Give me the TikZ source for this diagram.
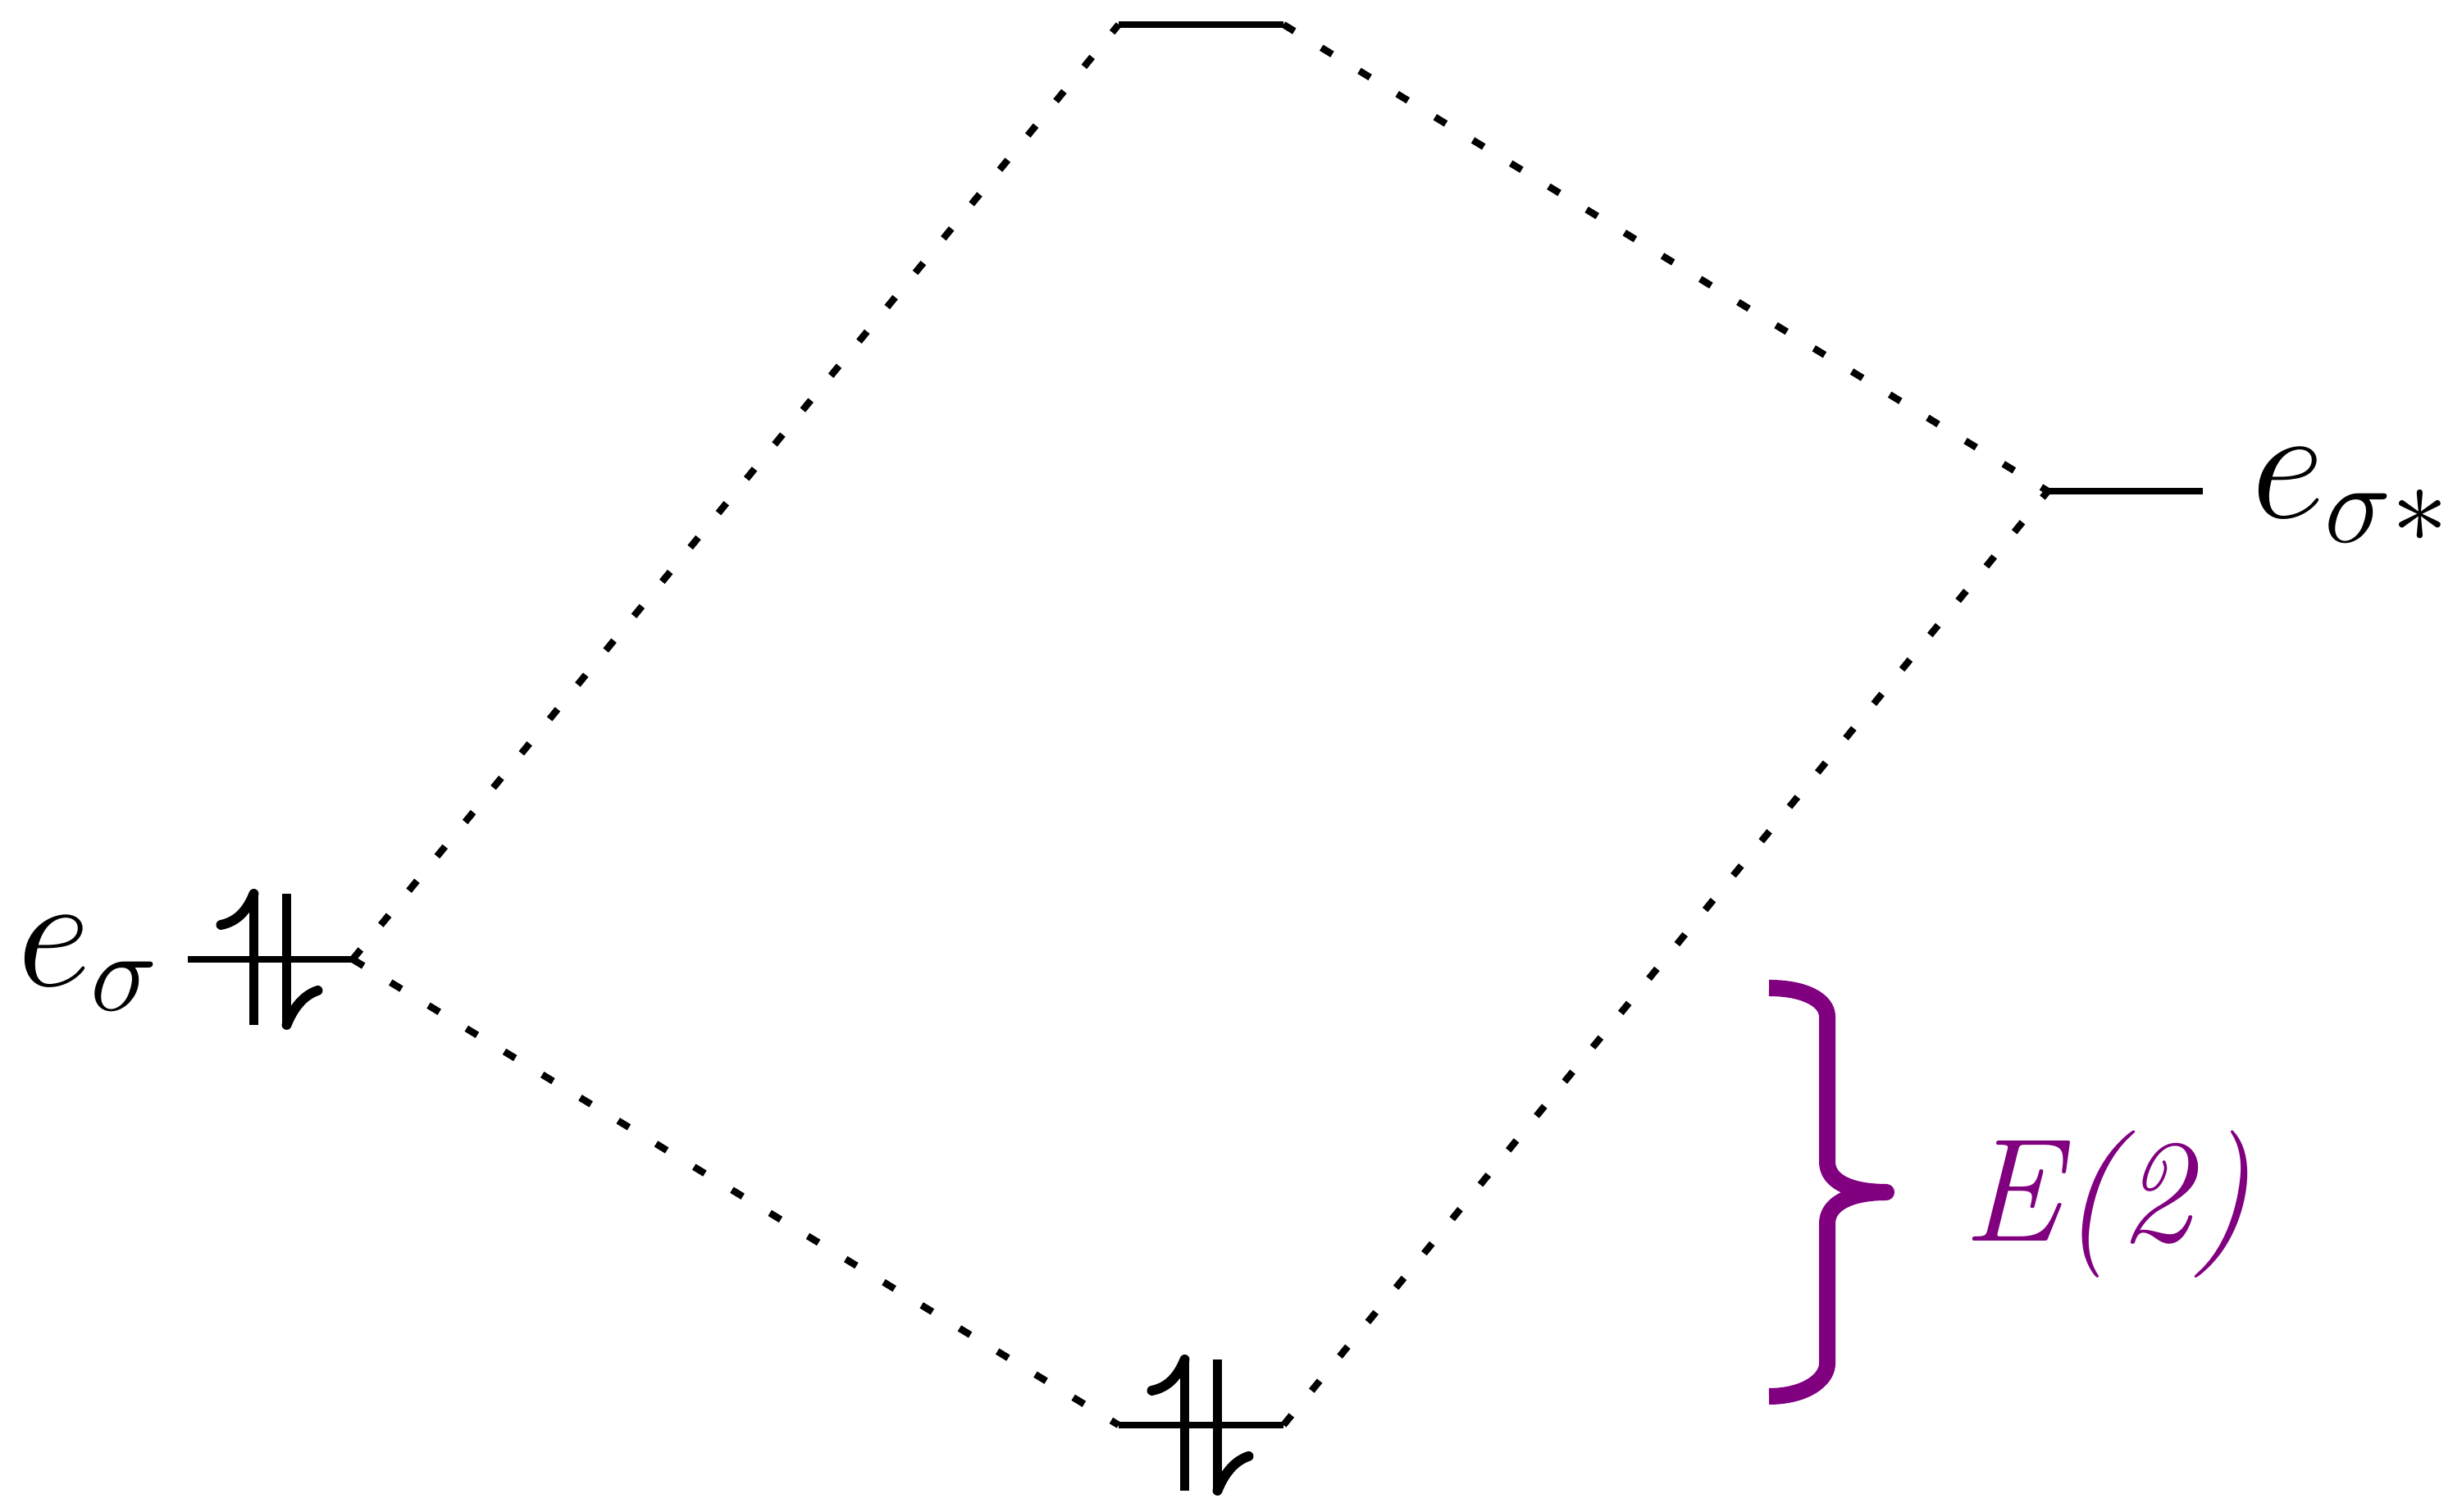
\RequirePackage{fix-cm}
\documentclass[tikz,border=0pt]{standalone}
\usetikzlibrary{positioning,calc}
\definecolor{nbopurple}{HTML}{800080}
\begin{document}
	\begin{tikzpicture}
		[level/.style={line width=1.13pt},
		link/.style={line width=1.2pt, dash pattern=on 2.2pt off 5.5pt},
		spin/.style={line width=1.7pt},
		orbital/.style={inner sep=0pt, font=\fontsize{28}{34}\selectfont},
		bracket/.style={nbopurple, line width=2.85pt, line join=round},
		energy/.style={nbopurple, inner sep=0pt, font=\fontsize{25.5}{30}\selectfont\itshape},
		pics/pair/.style={code={
			\draw[spin] (-0.1,-0.4) -- (-0.1,0.4);
			\draw[spin, line cap=round] (-0.1,0.4) .. controls (-0.14,0.3) and (-0.2,0.23) .. (-0.3,0.21);
			\draw[spin] (0.1,0.4) -- (0.1,-0.4);
			\draw[spin, line cap=round] (0.1,-0.4) .. controls (0.14,-0.3) and (0.2,-0.22) .. (0.29,-0.19);
		}}]
		\useasboundingbox (0,0) rectangle (15.01,9.22);
		% levels
		\coordinate (sig1) at (1.145,3.37);
		\coordinate (sig2) at (2.15,3.37);
		\coordinate (anti1) at (6.82,9.07);
		\coordinate (anti2) at (7.825,9.07);
		\coordinate (bond1) at (6.82,0.53);
		\coordinate (bond2) at (7.825,0.53);
		\coordinate (star1) at (12.485,6.225);
		\coordinate (star2) at (13.43,6.225);
		\draw[level] (sig1) -- (sig2);
		\draw[level] (anti1) -- (anti2);
		\draw[level] (bond1) -- (bond2);
		\draw[level] (star1) -- (star2);
		% electrons
		\pic at ($(sig1)!0.5!(sig2)$) {pair};
		\pic at ($(bond1)!0.5!(bond2)$) {pair};
		% mixing
		\draw[link] (sig2) -- (anti1);
		\draw[link] (sig2) -- (bond1);
		\draw[link] (anti2) -- (star1);
		\draw[link] (bond2) -- (star1);
		% labels
		\node[orbital, anchor=base east] (esig) at ($(sig1)+(-0.16,-0.165)$) {$e_\sigma$};
		\node[orbital, anchor=base west] (estar) at ($(star2)+(0.29,-0.165)$) {$e_{\sigma*}$};
		% stabilisation
		\coordinate (bt) at (10.785,3.195);
		\coordinate (bb) at (10.785,0.705);
		\coordinate (bm) at (11.5,1.95);
		\draw[bracket] (bt) .. controls +(0.22,0) and +(0,0.1) .. ++(0.355,-0.175)
			-- ++(0,-0.885) .. controls +(0,-0.12) and +(-0.22,0) .. (bm)
			.. controls +(-0.22,0) and +(0,0.12) .. ++(-0.36,-0.19)
			-- ++(0,-0.855) .. controls +(0,-0.1) and +(0.22,0) .. (bb);
		\node[energy, anchor=base west] (gain) at ($(bm)+(0.46,-0.3)$) {E(2)};
	\end{tikzpicture}
\end{document}
